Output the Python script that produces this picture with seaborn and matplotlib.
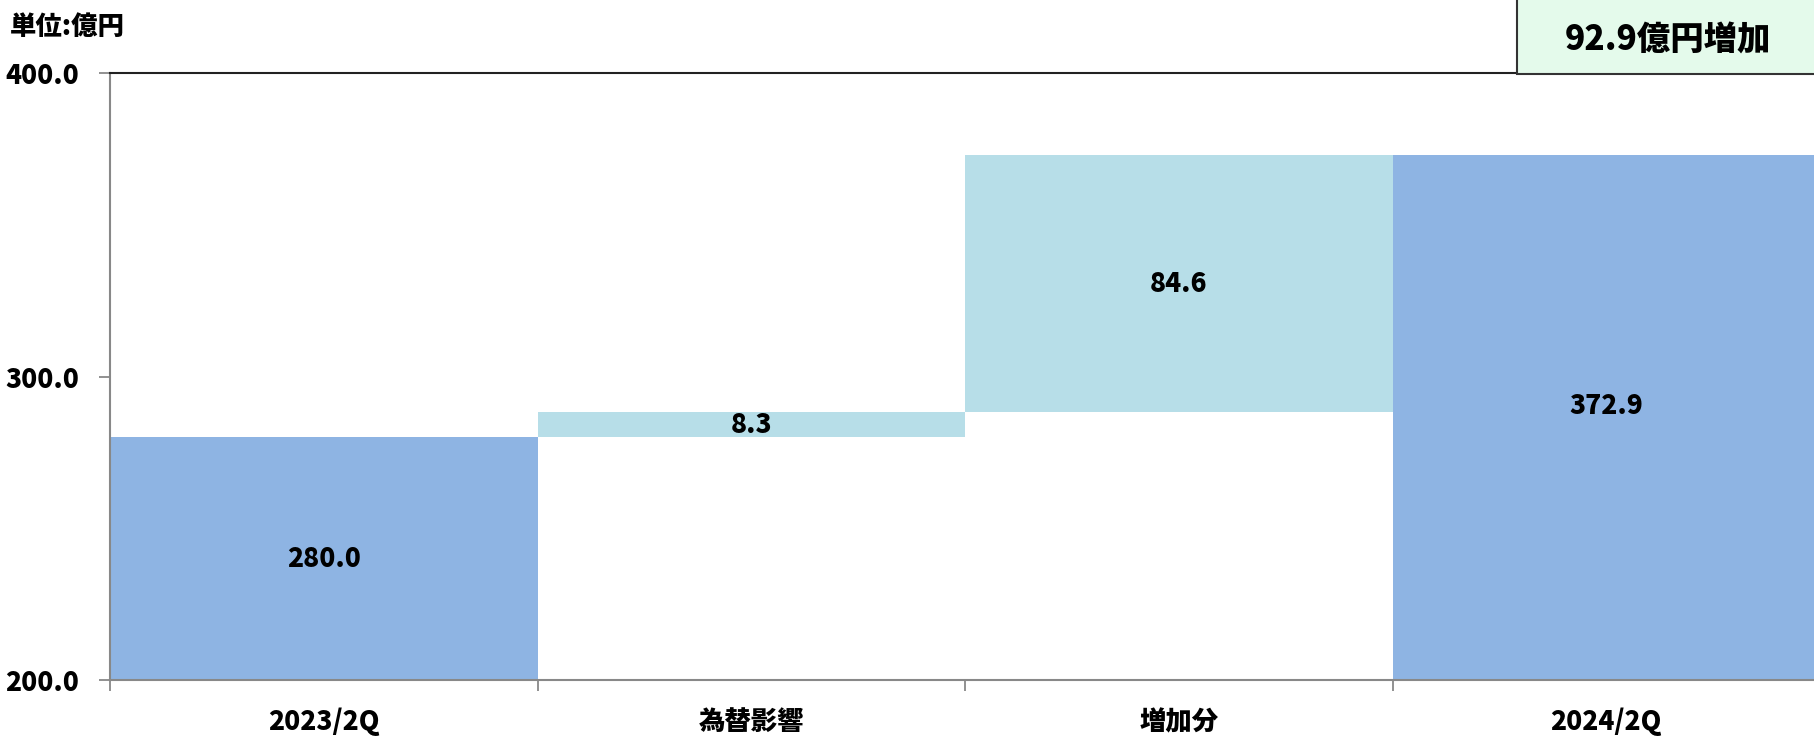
import matplotlib
matplotlib.use("Agg")
import matplotlib.pyplot as plt
import seaborn as sns
import numpy as np
import pandas as pd
from matplotlib.patches import Rectangle

categories = ["2023/2Q", "為替影響", "増加分", "2024/2Q"]
changes = [280.0, 8.3, 84.6, 372.9]
bases = [0.0, 280.0, 288.3, 0.0]
tops = [280.0, 288.3, 372.9, 372.9]
bar_colors = ["#8EB4E3", "#B7DEE8", "#B7DEE8", "#8EB4E3"]
yticks = [200.0, 300.0, 400.0]
unit_label = "単位:億円"
summary_label = "92.9億円増加"

sns.set_theme(style="white")
plt.rcParams['font.family'] = ['Noto Sans CJK JP', 'DejaVu Sans']
plt.rcParams['text.color'] = 'black'
plt.rcParams['xtick.color'] = 'black'
plt.rcParams['ytick.color'] = 'black'

fig = plt.figure(figsize=(18.14, 7.37), dpi=100)
ax = fig.add_axes([110/1814, 1-680/737, 1710/1814, (680-73)/737])

df = pd.DataFrame({"cat": categories, "top": tops, "base": bases})
sns.barplot(data=df, x="cat", y="top", hue="cat", palette=bar_colors,
            width=1.0, legend=False, ax=ax, saturation=1, linewidth=0)
sns.barplot(data=df, x="cat", y="base", color="white",
            width=1.0, ax=ax, saturation=1, linewidth=0)

ax.set_ylim(200, 400)
ax.set_xlim(-0.5, 3.5)
ax.set_yticks(yticks)
ax.set_yticklabels([f"{v:.1f}" for v in yticks], fontsize=19, fontweight="heavy", color="black")
ax.set_xticks(range(len(categories)))
ax.set_xticklabels(categories, fontsize=19, fontweight="heavy", color="black")
ax.set_xticks(np.arange(-0.5, 4.0, 1.0), minor=True)
ax.tick_params(axis="x", which="major", bottom=False, length=0, pad=20)
ax.tick_params(axis="x", which="minor", bottom=True, length=8, width=1.3,
               color="#888888", direction="out")
ax.tick_params(axis="y", which="major", left=True, length=8, width=1.3,
               color="#888888", direction="out", pad=14)
ax.set_xlabel("")
ax.set_ylabel("")

for s in ["left", "bottom"]:
    ax.spines[s].set_color("#888888")
    ax.spines[s].set_linewidth(1.5)
ax.spines["top"].set_color("#222222")
ax.spines["top"].set_linewidth(1.5)
ax.spines["right"].set_visible(False)

# value labels
for i, (b, t, c) in enumerate(zip(bases, tops, changes)):
    lo = max(b, 200.0)
    yc = (lo + t) / 2
    if i == 3:
        yc += 4
    ax.text(i, yc, f"{c:.1f}", ha="center", va="center",
            fontsize=19, fontweight="heavy", color="black")

fig.text(10/1814, 1-27/737, unit_label, ha="left", va="center",
         fontsize=19, fontweight="heavy", color="black")

box = Rectangle((1517/1814, 1-74/737), 0.2, 80/737, transform=fig.transFigure,
                facecolor="#E4FAEB", edgecolor="#333333", linewidth=1.5, zorder=10)
fig.add_artist(box)
fig.text(1668/1814, 1-40/737, summary_label, ha="center", va="center",
         fontsize=24, fontweight="heavy", color="black", zorder=11)

fig.savefig("out.png", dpi=100)
